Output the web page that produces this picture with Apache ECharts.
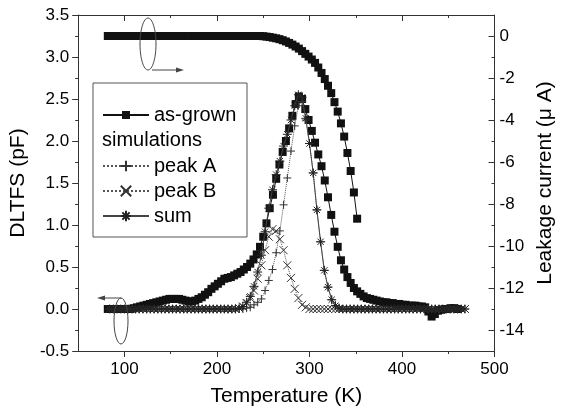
<!DOCTYPE html>
<html>
<head>
<meta charset="utf-8">
<script src="https://cdn.jsdelivr.net/npm/echarts@6/dist/echarts.min.js"></script>
<style>
html,body{margin:0;padding:0;background:#fff;}
#chart{width:564px;height:412px;}
</style>
</head>
<body>
<div id="chart"></div>
<script>
// ---------- data ----------
const xMajorTicks = [100, 200, 300, 400, 500];
const xMinorTicks = [150, 250, 350, 450];
const rightMajorTicks = [0, -2, -4, -6, -8, -10, -12, -14];
const rightMinorTicks = [-1, -3, -5, -7, -9, -11, -13];

// as-grown measurement temperatures (K)
const asT = [82.0, 85.5, 89.0, 92.5, 96.0, 99.5, 103.0, 106.5, 110.0, 113.5,
  117.0, 120.5, 124.0, 127.5, 131.0, 134.5, 138.0, 141.5, 145.0, 148.5,
  152.0, 155.5, 159.0, 162.5, 166.0, 169.5, 173.0, 176.5, 180.0, 183.5,
  187.0, 190.5, 194.0, 197.5, 201.0, 204.5, 208.0, 211.5, 215.0, 218.5,
  222.0, 225.5, 229.0, 232.5, 236.0, 239.5, 243.0, 246.5, 250.0, 253.5,
  257.0, 260.5, 264.0, 267.5, 271.0, 274.5, 278.0, 281.5, 285.0, 288.5,
  292.0, 295.5, 299.0, 302.5, 306.0, 309.5, 313.0, 316.5, 320.0, 323.5,
  327.0, 330.5, 334.0, 337.5, 341.0, 344.5, 348.0, 351.5, 355.0, 358.5,
  362.0, 365.5, 369.0, 372.5, 376.0, 379.5, 383.0, 386.5, 390.0, 393.5,
  397.0, 400.5, 404.0, 407.5, 411.0, 414.5, 418.0, 421.5, 425.0, 428.5,
  432.0, 435.5, 439.0, 442.5, 446.0, 449.5, 453.0, 456.5, 460.0];

// as-grown DLTFS signal (pF), left axis
const asDLTFS = [0, 0, 0, 0, 0, 0, 0, 0, 0.01, 0.02,
  0.03, 0.04, 0.05, 0.06, 0.07, 0.08, 0.09, 0.10, 0.11, 0.12,
  0.12, 0.12, 0.12, 0.11, 0.10, 0.09, 0.09, 0.10, 0.12, 0.14,
  0.17, 0.20, 0.24, 0.27, 0.30, 0.33, 0.36, 0.37, 0.38, 0.40,
  0.42, 0.44, 0.47, 0.50, 0.54, 0.59, 0.65, 0.74, 0.86, 1.02,
  1.20, 1.36, 1.55, 1.72, 1.87, 2.00, 2.15, 2.30, 2.44, 2.53,
  2.50, 2.38, 2.25, 2.12, 1.98, 1.84, 1.70, 1.53, 1.33, 1.12,
  0.92, 0.74, 0.58, 0.47, 0.38, 0.31, 0.25, 0.21, 0.18, 0.15,
  0.13, 0.12, 0.11, 0.10, 0.09, 0.08, 0.08, 0.07, 0.07, 0.06,
  0.06, 0.05, 0.05, 0.04, 0.04, 0.04, 0.03, 0.03, 0.02, -0.03,
  -0.09, -0.06, -0.02, -0.01, 0, 0, 0.01, 0.01, 0];

// as-grown leakage current (uA), right axis (first 78 temperatures)
const asLeak = [0, 0, 0, 0, 0, 0, 0, 0, 0, 0,
  0, 0, 0, 0, 0, 0, 0, 0, 0, 0,
  0, 0, 0, 0, 0, 0, 0, 0, 0, 0,
  0, 0, 0, 0, 0, 0, 0, 0, 0, 0,
  0, 0, 0, 0, 0, 0, 0, 0, -0.01, -0.03,
  -0.05, -0.08, -0.11, -0.15, -0.20, -0.26, -0.33, -0.41, -0.50, -0.60,
  -0.72, -0.85, -0.98, -1.12, -1.28, -1.50, -1.76, -2.05, -2.37, -2.72,
  -3.15, -3.60, -4.16, -4.79, -5.57, -6.43, -7.45, -8.70];

// simulation temperatures (K)
const simT = [84, 88, 92, 96, 100, 104, 108, 112, 116, 120,
  124, 128, 132, 136, 140, 144, 148, 152, 156, 160,
  164, 168, 172, 176, 180, 184, 188, 192, 196, 200,
  204, 208, 212, 216, 220, 224, 228, 232, 236, 240,
  244, 248, 252, 256, 260, 264, 268, 272, 276, 280,
  284, 288, 292, 296, 300, 304, 308, 312, 316, 320,
  324, 328, 332, 336, 340, 344, 348, 352, 356, 360,
  364, 368, 372, 376, 380, 384, 388, 392, 396, 400,
  404, 408, 412, 416, 420, 424, 428, 432, 436, 440,
  444, 448, 452, 456, 460, 464, 468];

const peakA = [0, 0, 0, 0, 0, 0, 0, 0, 0, 0,
  0, 0, 0, 0, 0, 0, 0, 0, 0, 0,
  0, 0, 0, 0, 0, 0, 0, 0, 0, 0,
  0, 0, 0, 0, 0, 0, 0, 0.01, 0.02, 0.05,
  0.08, 0.12, 0.22, 0.34, 0.47, 0.67, 0.93, 1.24, 1.56, 1.88,
  2.18, 2.42, 2.47, 2.25, 1.97, 1.62, 1.18, 0.80, 0.46, 0.26,
  0.11, 0.04, 0.01, 0, 0, 0, 0, 0, 0, 0,
  0, 0, 0, 0, 0, 0, 0, 0, 0, 0,
  0, 0, 0, 0, 0, 0, 0, 0, 0, 0,
  0, 0, 0, 0, 0, 0, 0];

const peakB = [0, 0, 0, 0, 0, 0, 0, 0, 0, 0,
  0, 0, 0, 0, 0, 0, 0, 0, 0, 0,
  0, 0, 0, 0, 0, 0, 0, 0, 0, 0,
  0, 0, 0, 0, 0, 0.01, 0.03, 0.07, 0.13, 0.22,
  0.36, 0.52, 0.70, 0.86, 0.95, 0.93, 0.83, 0.70, 0.52, 0.37,
  0.24, 0.13, 0.05, 0.02, 0, 0, 0, 0, 0, 0,
  0, 0, 0, 0, 0, 0, 0, 0, 0, 0,
  0, 0, 0, 0, 0, 0, 0, 0, 0, 0,
  0, 0, 0, 0, 0, 0, 0, 0, 0, 0,
  0, 0, 0, 0, 0, 0, 0];

const sumAB = [0, 0, 0, 0, 0, 0, 0, 0, 0, 0,
  0, 0, 0, 0, 0, 0, 0, 0, 0, 0,
  0, 0, 0, 0, 0, 0, 0, 0, 0, 0,
  0, 0, 0, 0, 0, 0.01, 0.03, 0.08, 0.15, 0.27,
  0.44, 0.64, 0.92, 1.20, 1.42, 1.60, 1.76, 1.94, 2.08, 2.25,
  2.42, 2.55, 2.52, 2.27, 1.97, 1.62, 1.18, 0.80, 0.46, 0.26,
  0.11, 0.04, 0.01, 0, 0, 0, 0, 0, 0, 0,
  0, 0, 0, 0, 0, 0, 0, 0, 0, 0,
  0, 0, 0, 0, 0, 0, 0, 0, 0, 0,
  0, 0, 0, 0, 0, 0, 0];

// ---------- chart ----------
const FONT = 'Liberation Sans, Arial, Helvetica, sans-serif';
const INK = '#111';
const AX = '#333';

function pairs(xs, ys) { return ys.map((v, i) => [xs[i], v]); }

const PLUS = 'path://M5,0L5,10M0,5L10,5';
const CROSS = 'path://M0,0L10,10M10,0L0,10';
const STAR = 'path://M5,0L5,10M0,5L10,5M1.5,1.5L8.5,8.5M8.5,1.5L1.5,8.5';

const chart = echarts.init(document.getElementById('chart'), null, {renderer: 'canvas'});

function hiddenAxis(extra) {
  return Object.assign({
    type: 'value',
    axisLine: {show: false, onZero: false},
    axisLabel: {show: false},
    splitLine: {show: false}
  }, extra);
}

const option = {
  animation: false,
  backgroundColor: '#fff',
  textStyle: {fontFamily: FONT, color: '#000'},
  grid: {left: 77, right: 62, top: 15, bottom: 56, containLabel: false},
  xAxis: [
    {
      type: 'value', position: 'bottom', min: 50, max: 500,
      name: 'Temperature (K)', nameLocation: 'middle', nameGap: 35,
      nameTextStyle: {fontSize: 21, color: '#000', fontFamily: FONT},
      axisLine: {show: true, onZero: false, lineStyle: {color: AX, width: 1}},
      axisTick: {show: true, inside: false, length: 6, customValues: xMajorTicks, lineStyle: {color: AX}},
      axisLabel: {show: true, customValues: xMajorTicks, fontSize: 17, color: '#000', margin: 10, fontFamily: FONT},
      splitLine: {show: false}
    },
    hiddenAxis({position: 'bottom', min: 50, max: 500,
      axisTick: {show: true, inside: false, length: 3, customValues: xMinorTicks, lineStyle: {color: AX}}}),
    {
      type: 'value', position: 'top', min: 50, max: 500,
      axisLine: {show: true, onZero: false, lineStyle: {color: AX, width: 1}},
      axisTick: {show: true, inside: true, length: 6, customValues: xMajorTicks, lineStyle: {color: AX}},
      axisLabel: {show: false}, splitLine: {show: false}
    },
    hiddenAxis({position: 'top', min: 50, max: 500,
      axisTick: {show: true, inside: true, length: 3, customValues: xMinorTicks, lineStyle: {color: AX}}})
  ],
  yAxis: [
    {
      type: 'value', position: 'left', min: -0.5, max: 3.5, interval: 0.5,
      name: 'DLTFS (pF)', nameLocation: 'middle', nameGap: 46,
      nameTextStyle: {fontSize: 21, color: '#000', fontFamily: FONT},
      axisLine: {show: true, onZero: false, lineStyle: {color: AX, width: 1}},
      axisTick: {show: true, inside: false, length: 6, lineStyle: {color: AX}},
      minorTick: {show: true, splitNumber: 2, length: 3, lineStyle: {color: AX}},
      axisLabel: {fontSize: 17, color: '#000', margin: 9, fontFamily: FONT,
        formatter: v => v.toFixed(1)},
      splitLine: {show: false}
    },
    {
      type: 'value', position: 'right', min: -15, max: 1,
      name: 'Leakage current (\u03bc A)', nameLocation: 'middle', nameGap: 33,
      nameTextStyle: {fontSize: 21, color: '#000', fontFamily: FONT},
      axisLine: {show: true, onZero: false, lineStyle: {color: AX, width: 1}},
      axisTick: {show: true, inside: true, length: 6, customValues: rightMajorTicks, lineStyle: {color: AX}},
      axisLabel: {show: true, customValues: rightMajorTicks, fontSize: 17, color: '#000', margin: 5, fontFamily: FONT},
      splitLine: {show: false}
    },
    hiddenAxis({position: 'right', min: -15, max: 1,
      axisTick: {show: true, inside: true, length: 3, customValues: rightMinorTicks, lineStyle: {color: AX}}})
  ],
  legend: [
    {
      data: ['as-grown'], orient: 'vertical', left: 102, top: 105, padding: 0,
      itemWidth: 46, itemHeight: 10, itemGap: 5, selectedMode: false,
      textStyle: {fontSize: 20, color: '#000', fontFamily: FONT, lineHeight: 20}
    },
    {
      data: ['peak A', 'peak B', 'sum'], orient: 'vertical', left: 102, top: 156, padding: 0,
      itemWidth: 46, itemHeight: 13, itemGap: 5, selectedMode: false,
      textStyle: {fontSize: 20, color: '#000', fontFamily: FONT, lineHeight: 20}
    }
  ],
  graphic: [
    {type: 'rect', z: 1, shape: {x: 93, y: 83, width: 154, height: 154},
      style: {fill: 'none', stroke: '#555', lineWidth: 1}},
    {type: 'text', z: 10, x: 102, y: 140,
      style: {text: 'simulations', fill: '#000', font: '20px ' + FONT, textVerticalAlign: 'middle', verticalAlign: 'middle'}},
    {type: 'ellipse', z: 10, shape: {cx: 148, cy: 44, rx: 8, ry: 26},
      style: {fill: 'none', stroke: '#444', lineWidth: 1}},
    {type: 'line', z: 10, shape: {x1: 152, y1: 70, x2: 178, y2: 70},
      style: {stroke: '#444', lineWidth: 1}},
    {type: 'polygon', z: 10, shape: {points: [[184, 70], [176, 67.5], [176, 72.5]]},
      style: {fill: '#444', stroke: 'none'}},
    {type: 'ellipse', z: 10, shape: {cx: 121, cy: 321, rx: 7, ry: 23},
      style: {fill: 'none', stroke: '#444', lineWidth: 1}},
    {type: 'line', z: 10, shape: {x1: 121, y1: 298, x2: 103, y2: 298},
      style: {stroke: '#444', lineWidth: 1}},
    {type: 'polygon', z: 10, shape: {points: [[97, 298], [105, 295.5], [105, 300.5]]},
      style: {fill: '#444', stroke: 'none'}}
  ],
  series: [
    {
      name: 'as-grown', type: 'line', xAxisIndex: 0, yAxisIndex: 0,
      data: pairs(asT, asDLTFS), showAllSymbol: true,
      symbol: 'rect', symbolSize: 8,
      itemStyle: {color: INK}, lineStyle: {color: INK, width: 1}, z: 3
    },
    {
      name: 'as-grown', type: 'line', xAxisIndex: 0, yAxisIndex: 1,
      data: pairs(asT, asLeak), showAllSymbol: true,
      symbol: 'rect', symbolSize: 8,
      itemStyle: {color: INK}, lineStyle: {color: INK, width: 1}, z: 3
    },
    {
      name: 'peak A', type: 'line', xAxisIndex: 0, yAxisIndex: 0,
      data: pairs(simT, peakA), showAllSymbol: true,
      symbol: PLUS, symbolSize: 8,
      itemStyle: {color: 'transparent', borderColor: '#333', borderWidth: 1},
      lineStyle: {color: '#555', width: 1, type: 'dotted'}, z: 4
    },
    {
      name: 'peak B', type: 'line', xAxisIndex: 0, yAxisIndex: 0,
      data: pairs(simT, peakB), showAllSymbol: true,
      symbol: CROSS, symbolSize: 8,
      itemStyle: {color: 'transparent', borderColor: '#333', borderWidth: 1},
      lineStyle: {color: '#555', width: 1, type: 'dotted'}, z: 4
    },
    {
      name: 'sum', type: 'line', xAxisIndex: 0, yAxisIndex: 0,
      data: pairs(simT, sumAB), showAllSymbol: true,
      symbol: STAR, symbolSize: 9,
      itemStyle: {color: 'transparent', borderColor: '#222', borderWidth: 1},
      lineStyle: {color: '#444', width: 1}, z: 5
    }
  ]
};

chart.setOption(option);
</script>
</body>
</html>
